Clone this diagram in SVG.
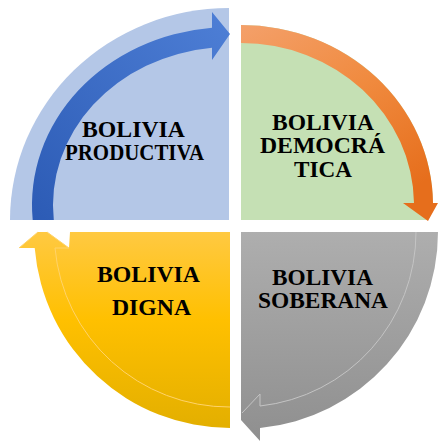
<svg xmlns="http://www.w3.org/2000/svg" width="438" height="441" viewBox="0 0 438 441">
<defs>
<style>
.lbl{font-family:"Liberation Serif","Times New Roman",serif;font-weight:bold;font-size:22.5px;fill:#000}
.thin{fill:none;stroke-width:1}
</style>
<linearGradient id="gBlue" x1="0" y1="1" x2="1" y2="0">
<stop offset="0" stop-color="#2C5BB5"/>
<stop offset="1" stop-color="#4E7FD6"/>
</linearGradient>
<linearGradient id="gOrange" x1="0" y1="0" x2="0.6" y2="1">
<stop offset="0" stop-color="#F4A06A"/>
<stop offset="0.5" stop-color="#F08A3E"/>
<stop offset="1" stop-color="#E66E1C"/>
</linearGradient>
<linearGradient id="gYellow" x1="0" y1="0" x2="0" y2="1">
<stop offset="0" stop-color="#FFC942"/>
<stop offset="0.45" stop-color="#FFC000"/>
<stop offset="1" stop-color="#E3AF00"/>
</linearGradient>
<linearGradient id="gGrey" x1="0" y1="0" x2="0" y2="1">
<stop offset="0" stop-color="#AEAEAE"/>
<stop offset="1" stop-color="#8F8F8F"/>
</linearGradient>
</defs>

<g id="node-productiva">
<path d="M229,220 L10,220 A219,212 0 0 1 229,8 Z" fill="#B4C7E7"/>
<text class="lbl" x="82" y="137" textLength="103" lengthAdjust="spacingAndGlyphs">BOLIVIA</text>
<text class="lbl" x="65" y="160" textLength="139" lengthAdjust="spacingAndGlyphs">PRODUCTIVA</text>
</g>

<g id="node-democratica">
<path d="M241,220 L241,25 A192,180 0 0 1 433,205 L428,220 Z" fill="#C5E0B4"/>
<text class="lbl" x="272" y="130" textLength="102" lengthAdjust="spacingAndGlyphs">BOLIVIA</text>
<text class="lbl" x="260" y="153" textLength="125" lengthAdjust="spacingAndGlyphs">DEMOCRÁ</text>
<text class="lbl" x="294" y="177" textLength="58" lengthAdjust="spacingAndGlyphs">TICA</text>
</g>

<g id="node-digna">
<path d="M230,232 L70,232 L69,248 L47,232 L38,232 L19,248 L34.7,248 A196,196 0 0 0 230,428 Z" fill="url(#gYellow)"/>
<text class="lbl" x="97" y="282" textLength="103" lengthAdjust="spacingAndGlyphs">BOLIVIA</text>
<text class="lbl" x="112" y="315" textLength="79" lengthAdjust="spacingAndGlyphs">DIGNA</text>
</g>

<g id="node-soberana">
<path d="M241,232 L438,232 A197,197 0 0 1 260,428 L260,441 L241,420 Z" fill="url(#gGrey)"/>
<text class="lbl" x="272" y="285" textLength="101" lengthAdjust="spacingAndGlyphs">BOLIVIA</text>
<text class="lbl" x="258" y="308" textLength="130" lengthAdjust="spacingAndGlyphs">SOBERANA</text>
</g>

<g id="connectors">
<path d="M32.7,220 A198,178 0 0 1 212,27.7 L212,12 L230,34 L212,60 L212,47.8 A177,158 0 0 0 53.8,220 Z" fill="url(#gBlue)"/>
<path d="M241,25 A192,180 0 0 1 433,203 L438,203 L428,221 L403,203 L414,203 A173,162 0 0 0 241,43 Z" fill="url(#gOrange)"/>
<path class="thin" d="M19,248 L38,232 M47,232 L69,248 L55,248 A175,175 0 0 0 230,407" stroke="#FFD36A"/>
<path class="thin" d="M242,413 L260,394 L260,406 A175,175 0 0 0 416,232" stroke="#C4C4C4"/>
</g>
</svg>
